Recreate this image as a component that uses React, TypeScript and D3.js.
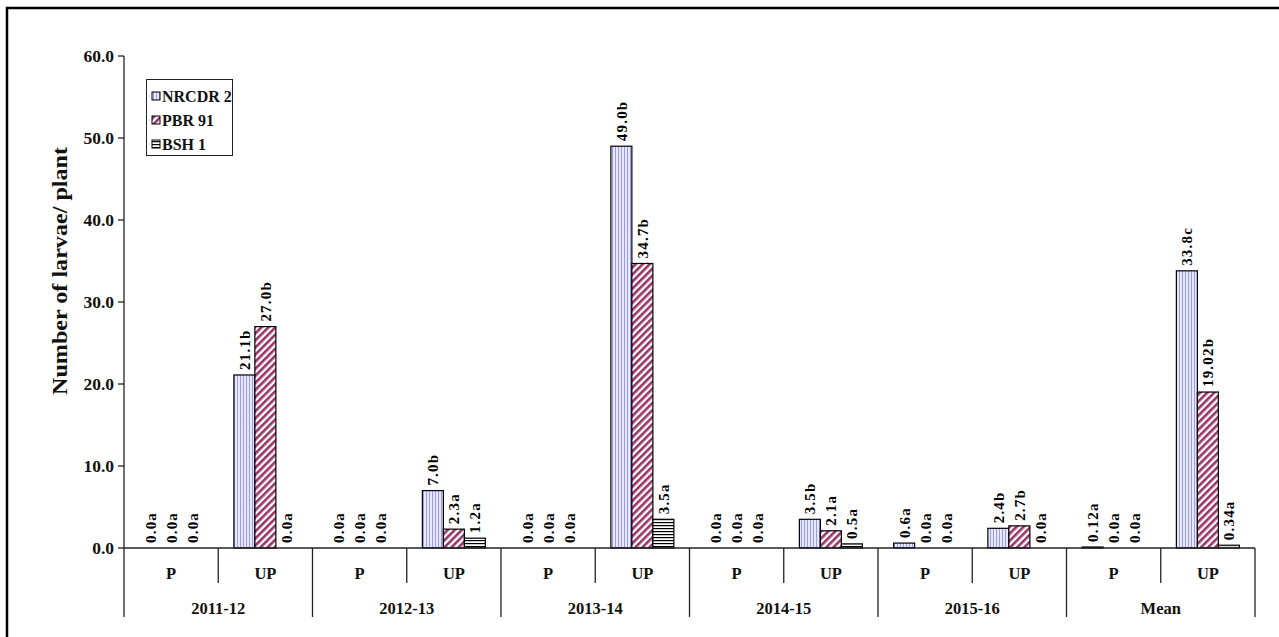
import React from "react";
import * as d3 from "d3";

const years = ["2011-12", "2012-13", "2013-14", "2014-15", "2015-16", "Mean"];
const conditions = ["P", "UP"];
const series = ["NRCDR 2", "PBR 91", "BSH 1"];

// index = yearIndex * 2 + conditionIndex
const nrcdr2 = [0, 21.1, 0, 7.0, 0, 49.0, 0, 3.5, 0.6, 2.4, 0.12, 33.8];
const pbr91 = [0, 27.0, 0, 2.3, 0, 34.7, 0, 2.1, 0, 2.7, 0, 19.02];
const bsh1 = [0, 0, 0, 1.2, 0, 3.5, 0, 0.5, 0, 0, 0, 0.34];

const nrcdr2Labels = ["0.0a", "21.1b", "0.0a", "7.0b", "0.0a", "49.0b", "0.0a", "3.5b", "0.6a", "2.4b", "0.12a", "33.8c"];
const pbr91Labels = ["0.0a", "27.0b", "0.0a", "2.3a", "0.0a", "34.7b", "0.0a", "2.1a", "0.0a", "2.7b", "0.0a", "19.02b"];
const bsh1Labels = ["0.0a", "0.0a", "0.0a", "1.2a", "0.0a", "3.5a", "0.0a", "0.5a", "0.0a", "0.0a", "0.0a", "0.34a"];

const yTicks = [0, 10, 20, 30, 40, 50, 60];

const seriesValues = [nrcdr2, pbr91, bsh1];
const seriesLabels = [nrcdr2Labels, pbr91Labels, bsh1Labels];
const fills = ["url(#patV)", "url(#patD)", "url(#patH)"];

const FONT = "'Liberation Serif', 'Times New Roman', serif";

export default function App() {
  const W = 1279;
  const H = 637;
  const x0 = 124;
  const x1 = 1255;
  const yBase = 548;
  const yTop = 56;

  const yearScale = d3.scaleBand<string>().domain(years).range([x0, x1]).padding(0);
  const condScale = d3
    .scaleBand<string>()
    .domain(conditions)
    .range([0, yearScale.bandwidth()])
    .padding(0);
  const serScale = d3
    .scaleBand<string>()
    .domain(series)
    .range([0, condScale.bandwidth()])
    .paddingInner(0)
    .paddingOuter(0.744);
  const y = d3.scaleLinear().domain([0, 60]).range([yBase, yTop]);

  const bars: React.ReactNode[] = [];
  const labels: React.ReactNode[] = [];
  years.forEach((yr, yi) => {
    conditions.forEach((c, ci) => {
      const idx = yi * 2 + ci;
      series.forEach((s, si) => {
        const v = seriesValues[si][idx];
        const bx = (yearScale(yr) as number) + (condScale(c) as number) + (serScale(s) as number);
        const bw = serScale.bandwidth();
        if (v > 0) {
          bars.push(
            <rect
              key={`b-${idx}-${si}`}
              x={bx}
              y={y(v)}
              width={bw}
              height={yBase - y(v)}
              fill={v < 0.4 && si === 2 ? "#d9d9d9" : fills[si]}
              stroke="#000"
              strokeWidth={1.2}
            />
          );
        }
        const cx = bx + bw / 2;
        const ty = y(v) - 5;
        labels.push(
          <text
            key={`l-${idx}-${si}`}
            transform={`translate(${cx},${ty}) rotate(-90)`}
            dy="0.36em"
            textAnchor="start"
            fontFamily={FONT}
            fontWeight="bold"
            fontSize={15}
            letterSpacing={1.2}
            fill="#000"
          >
            {seriesLabels[si][idx]}
          </text>
        );
      });
    });
  });

  return (
    <svg width={W} height={H} style={{ position: "absolute", left: 0, top: 0 }}>
      <defs>
        <pattern id="patV" width={3} height={6} patternUnits="userSpaceOnUse">
          <rect width={3} height={6} fill="#e8e8ff" />
          <rect x={0} width={1} height={6} fill="#9a9af5" />
        </pattern>
        <pattern
          id="patD"
          width={5}
          height={5}
          patternUnits="userSpaceOnUse"
          patternTransform="rotate(45)"
        >
          <rect width={5} height={5} fill="#ffffff" />
          <rect x={0} width={2.6} height={5} fill="#993366" />
        </pattern>
        <pattern id="patH" width={6} height={3} patternUnits="userSpaceOnUse">
          <rect width={6} height={3} fill="#ffffff" />
          <rect y={0} width={6} height={1.2} fill="#000" />
        </pattern>
      </defs>
      <rect x={0} y={0} width={W} height={H} fill="#fff" />
      {/* outer frame */}
      <rect x={7} y={8} width={W + 20} height={H + 20} fill="none" stroke="#000" strokeWidth={2.5} />

      {/* y axis */}
      <line x1={x0} x2={x0} y1={yTop} y2={617} stroke="#222" strokeWidth={1.3} />
      {yTicks.map((t) => (
        <g key={`t-${t}`}>
          <line x1={x0 - 6} x2={x0} y1={y(t)} y2={y(t)} stroke="#222" strokeWidth={1.3} />
          <text
            x={x0 - 10}
            y={y(t)}
            dy="0.35em"
            textAnchor="end"
            fontFamily={FONT}
            fontWeight="bold"
            fontSize={17.5}
            fill="#111"
          >
            {t.toFixed(1)}
          </text>
        </g>
      ))}
      <text
        transform={`translate(67,271) rotate(-90)`}
        textAnchor="middle"
        fontFamily={FONT}
        fontWeight="bold"
        fontSize={21}
        textLength={248}
        lengthAdjust="spacingAndGlyphs"
        fill="#111"
      >
        Number of larvae/ plant
      </text>

      {bars}
      {labels}

      {/* x axis line */}
      <line x1={x0} x2={x1} y1={yBase} y2={yBase} stroke="#222" strokeWidth={1.3} />
      {/* category table */}
      {years.map((yr) => {
        const gx = yearScale(yr) as number;
        const gw = yearScale.bandwidth();
        return (
          <g key={`g-${yr}`}>
            <line x1={gx + gw} x2={gx + gw} y1={yBase} y2={617} stroke="#222" strokeWidth={1.3} />
            <line
              x1={gx + gw / 2}
              x2={gx + gw / 2}
              y1={yBase}
              y2={583}
              stroke="#222"
              strokeWidth={1.3}
            />
            {conditions.map((c) => (
              <text
                key={`c-${yr}-${c}`}
                x={gx + (condScale(c) as number) + condScale.bandwidth() / 2}
                y={579}
                textAnchor="middle"
                fontFamily={FONT}
                fontWeight="bold"
                fontSize={16.5}
                fill="#111"
              >
                {c}
              </text>
            ))}
            <text
              x={gx + gw / 2}
              y={614}
              textAnchor="middle"
              fontFamily={FONT}
              fontWeight="bold"
              fontSize={16.5}
              fill="#111"
            >
              {yr}
            </text>
          </g>
        );
      })}

      {/* legend */}
      <rect x={146.5} y={79.5} width={86} height={76} fill="#fff" stroke="#222" strokeWidth={1} />
      {series.map((s, i) => (
        <g key={`lg-${s}`}>
          <rect
            x={152}
            y={92 + i * 24}
            width={8}
            height={8}
            fill={fills[i]}
            stroke="#000"
            strokeWidth={1}
          />
          <text
            x={162}
            y={96 + i * 24}
            dy="0.36em"
            fontFamily={FONT}
            fontWeight="bold"
            fontSize={16}
            fill="#111"
          >
            {s}
          </text>
        </g>
      ))}
    </svg>
  );
}
